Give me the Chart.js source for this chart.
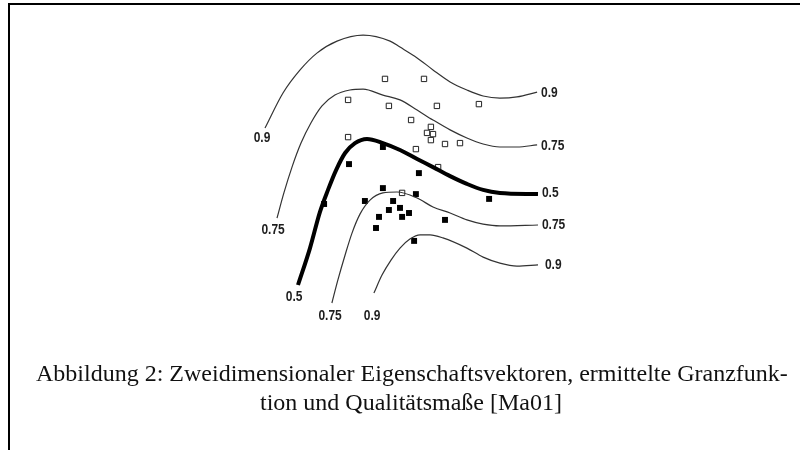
<!DOCTYPE html>
<html>
<head>
<meta charset="utf-8">
<script src="https://cdn.jsdelivr.net/npm/chart.js@4.4.1/dist/chart.umd.min.js"></script>
<style>
  html, body { margin: 0; padding: 0; background: #fff; }
  #wrap { position: relative; width: 800px; height: 450px; overflow: hidden; }
  #frame { position: absolute; left: 8px; top: 3px; width: 900px; height: 500px;
           border-top: 2px solid #000; border-left: 2px solid #000; }
  #chart { position: absolute; left: 0; top: 0; }
  .cap { position: absolute; font-family: "Liberation Serif", "Times New Roman", serif;
         font-size: 24px; color: #111; white-space: nowrap; }
  #cap1 { left: 36px; width: 750px; top: 360px; text-align: justify; text-align-last: justify; }
  #cap2 { left: 36px; width: 750px; top: 389px; text-align: center; }
</style>
</head>
<body>
<div id="wrap">
  <div id="frame"></div>
  <canvas id="chart" width="800" height="450"></canvas>
  <div class="cap" id="cap1">Abbildung 2: Zweidimensionaler Eigenschaftsvektoren, ermittelte Granzfunk-</div>
  <div class="cap" id="cap2">tion und Qualitätsmaße [Ma01]</div>
</div>
<script>
// Grenzkurven (Merkmal 1 / Merkmal 2)
const kurve09oben_x = [5, 11, 16.7, 22.3, 29, 37.7, 46.7, 50, 55.7, 61, 66.7, 72.3, 77.7, 83.3, 89, 95.7];
const kurve09oben_y = [67.3, 79, 86.7, 92.3, 96.3, 98.3, 96.3, 94.3, 90.7, 86.7, 82.7, 80, 78, 77.3, 77.7, 79.3];

const kurve075oben_x = [9, 11.3, 14, 17, 20.3, 24, 28.3, 33.3, 37.7, 44.3, 50, 55.7, 61, 66.7, 72.3, 77.7, 83.3, 89, 95.7];
const kurve075oben_y = [37.3, 45.7, 54.3, 62.3, 69, 74.7, 78.3, 80, 80.3, 78.3, 76.7, 73.3, 70, 66.7, 64, 62, 61, 61, 61.7];

const grenze05_x = [16, 20, 23.3, 26, 28.7, 31.7, 35, 39, 44.3, 50, 55.7, 61, 66.7, 72.3, 77.7, 83.3, 96];
const grenze05_y = [15, 27.3, 39.3, 46.7, 53.3, 59, 62.3, 63.7, 62.3, 60, 57, 54.3, 51.3, 48.7, 46.7, 45.7, 45.3];

const kurve075unten_x = [27.3, 29.3, 31.7, 34, 36.7, 40, 44.3, 49, 55.7, 61, 66.7, 72.3, 77.7, 83.3, 96];
const kurve075unten_y = [9, 16.7, 25, 32.3, 38.7, 43.3, 45.7, 46, 44, 41, 39, 36.7, 35.3, 34.7, 35];

const kurve09unten_x = [41.3, 44, 47, 50, 53.3, 56.7, 60, 64.3, 72.3, 77.7, 83.3, 89, 96];
const kurve09unten_y = [12.3, 18.3, 23.3, 27.3, 30.3, 31.7, 31.7, 30.7, 27.3, 24.3, 22.3, 21.3, 21.7];

// Merkmalsvektoren
const klasseA_x = [45, 58, 32.7, 46.3, 62.3, 76.3, 53.7, 60.3, 59, 61, 60.3, 65, 70, 32.7, 55.3, 62.7, 50.7];
const klasseA_y = [83.7, 83.7, 76.7, 74.7, 74.7, 75.3, 70, 67.7, 65.7, 65.3, 63.3, 62, 62.3, 64.3, 60.3, 54.3, 45.7];

const klasseB_x = [44.3, 33, 56.3, 24.7, 44.3, 55.3, 79.7, 38.3, 47.7, 50, 46.3, 53, 50.7, 43, 65, 42, 54.7];
const klasseB_y = [61, 55.3, 52.3, 42, 47.3, 45.3, 43.7, 43, 43, 40.7, 40, 39, 37.7, 37.7, 36.7, 34, 29.7];

// Beschriftungen der Kurven
const labelText = ["0.9", "0.75", "0.5", "0.75", "0.9", "0.9", "0.75", "0.5", "0.75", "0.9"];
const labelX = [97, 97, 97.3, 97.3, 98.3, 4, 7.7, 14.7, 26.7, 40.7];
const labelY = [79, 61.3, 45.7, 35, 21.7, 64, 33.3, 11, 4.7, 4.7];

function pts(xs, ys) {
  return xs.map((x, i) => ({ x: x, y: ys[i] }));
}

function kurve(xs, ys, breite, farbe) {
  return {
    type: 'line',
    data: pts(xs, ys),
    borderColor: farbe,
    borderWidth: breite,
    pointRadius: 0,
    cubicInterpolationMode: 'monotone',
    fill: false,
    clip: false
  };
}

// schmale Schrift: Liberation Sans horizontal gestaucht
const kurvenLabels = {
  id: 'kurvenLabels',
  afterDatasetsDraw(chart) {
    const ctx = chart.ctx;
    const sx = chart.scales.x, sy = chart.scales.y;
    const squeeze = 0.8;
    ctx.save();
    ctx.font = 'bold 15px "Liberation Sans", Arial, sans-serif';
    ctx.fillStyle = '#1e1e1e';
    ctx.textBaseline = 'middle';
    labelText.forEach((t, i) => {
      ctx.textAlign = i < 5 ? 'left' : 'center';
      ctx.save();
      ctx.translate(sx.getPixelForValue(labelX[i]), sy.getPixelForValue(labelY[i]));
      ctx.scale(squeeze, 1);
      ctx.fillText(t, 0, 0);
      ctx.restore();
    });
    ctx.restore();
  }
};

new Chart(document.getElementById("chart"), {
  type: 'scatter',
  data: {
    datasets: [
      kurve(kurve09oben_x, kurve09oben_y, 1.2, '#333'),
      kurve(kurve075oben_x, kurve075oben_y, 1.2, '#333'),
      kurve(grenze05_x, grenze05_y, 4, '#000'),
      kurve(kurve075unten_x, kurve075unten_y, 1.2, '#333'),
      kurve(kurve09unten_x, kurve09unten_y, 1.2, '#333'),
      {
        data: pts(klasseA_x, klasseA_y),
        pointStyle: 'rect',
        pointRadius: 3.8,
        borderWidth: 1,
        borderColor: '#222',
        backgroundColor: '#fff',
        clip: false
      },
      {
        data: pts(klasseB_x, klasseB_y),
        pointStyle: 'rect',
        pointRadius: 4.2,
        borderWidth: 0,
        backgroundColor: '#000',
        clip: false
      }
    ]
  },
  options: {
    responsive: false,
    animation: false,
    events: [],
    layout: { padding: { left: 250, right: 250, top: 30, bottom: 120 } },
    plugins: {
      legend: { display: false },
      title: { display: false },
      tooltip: { enabled: false }
    },
    scales: {
      x: { type: 'linear', min: 0, max: 100, display: false },
      y: { type: 'linear', min: 0, max: 100, display: false }
    }
  },
  plugins: [kurvenLabels]
});
</script>
</body>
</html>
